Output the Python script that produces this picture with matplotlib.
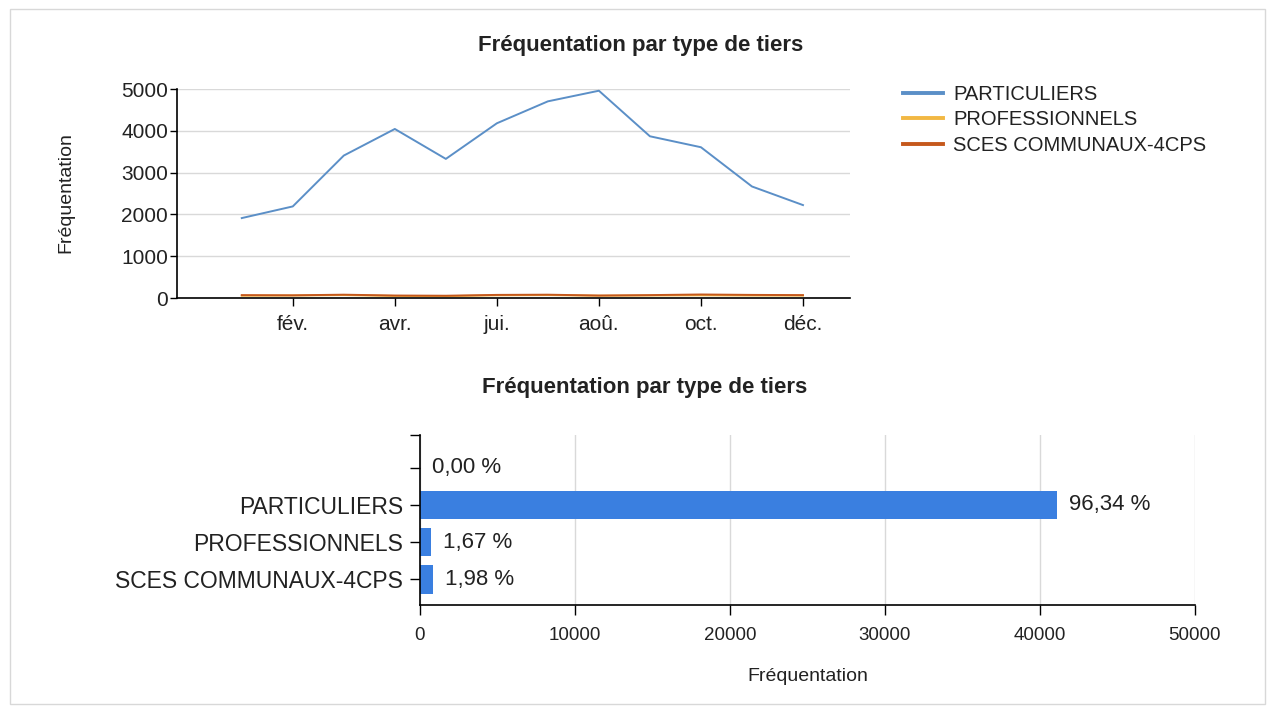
import matplotlib.pyplot as plt
from matplotlib.patches import Rectangle

plt.rcParams['font.family'] = ['Liberation Sans', 'DejaVu Sans']

# monthly attendance per customer type
months = list(range(12))
tick_months = [1, 3, 5, 7, 9, 11]
tick_labels = ['fév.', 'avr.', 'jui.', 'aoû.', 'oct.', 'déc.']
particuliers = [1913, 2192, 3409, 4045, 3329, 4181, 4706, 4960, 3870, 3608, 2669, 2224]
professionnels = [55, 60, 70, 50, 45, 65, 70, 55, 60, 65, 60, 58]
sces = [70, 65, 80, 60, 55, 75, 80, 60, 70, 85, 75, 70]
series_names = ['PARTICULIERS', 'PROFESSIONNELS', 'SCES COMMUNAUX-4CPS']
series_colors = ['#5b8fc7', '#f2b843', '#c5581c']

# bar chart (top to bottom)
bar_cats = ['', 'PARTICULIERS', 'PROFESSIONNELS', 'SCES COMMUNAUX-4CPS']
bar_vals = [0, sum(particuliers), sum(professionnels), sum(sces)]
bar_pct = ['0,00 %', '96,34 %', '1,67 %', '1,98 %']

title = 'Fréquentation par type de tiers'

fig = plt.figure(figsize=(12.75, 7.13), dpi=100)
fig.patches.append(Rectangle((0.008, 0.012), 0.984, 0.976, transform=fig.transFigure,
                             fill=False, edgecolor='#d8d8d8', linewidth=1))

# line chart
ax1 = fig.add_axes([0.1388, 0.582, 0.5278, 0.2931])
for vals, name, col in zip([particuliers, professionnels, sces], series_names, series_colors):
    ax1.plot(months, vals, color=col, linewidth=1.4, label=name)
ax1.set_xlim(-1.27, 11.92)
ax1.set_ylim(0, 5000)
ax1.set_yticks([0, 1000, 2000, 3000, 4000, 5000])
ax1.set_xticks(tick_months)
ax1.set_xticklabels(tick_labels)
ax1.tick_params(labelsize=15, width=1, color='black', labelcolor='#222222')
ax1.tick_params(axis='x', length=6, pad=6)
ax1.tick_params(axis='y', length=5, pad=1.5)
ax1.yaxis.grid(True, color='#d9d9d9', linewidth=1)
ax1.set_axisbelow(True)
for s in ['top', 'right']:
    ax1.spines[s].set_visible(False)
for s in ['left', 'bottom']:
    ax1.spines[s].set_linewidth(1.2)
ax1.set_ylabel('Fréquentation', fontsize=14, color='#222222')
ax1.yaxis.set_label_coords(-0.152, 0.507)
fig.text(641 / 1275, 1 - 46 / 713, title, fontsize=16, fontweight='bold',
         ha='center', va='center', color='#222222')
leg = fig.legend(loc='upper left', bbox_to_anchor=(0.708, 0.881), frameon=False, fontsize=14.5,
                 handlelength=2.0, handletextpad=0.5, labelspacing=0.32, borderaxespad=0,
                 borderpad=0)
for line in leg.get_lines():
    line.set_linewidth(2.8)
for t in leg.get_texts():
    t.set_color('#222222')

# bar chart
ax2 = fig.add_axes([0.3294, 0.1515, 0.6078, 0.2384])
ypos = list(range(len(bar_cats)))[::-1]
ax2.barh(ypos, bar_vals, height=0.78, color='#3a7fe0')
for y, v, lab in zip(ypos, bar_vals, bar_pct):
    ax2.annotate(lab, (v, y), xytext=(8.5, 0), textcoords='offset points',
                 va='center', ha='left', fontsize=16, color='#222222')
ax2.set_yticks(ypos)
ax2.set_yticklabels(bar_cats)
ax2.set_yticks([3.89], minor=True)
ax2.set_ylim(-0.7, 3.89)
ax2.set_xlim(0, 50000)
ax2.set_xticks([0, 10000, 20000, 30000, 40000, 50000])
ax2.tick_params(axis='y', which='both', labelsize=16.5, length=7, width=1, color='black',
                labelcolor='#222222', pad=5)
ax2.tick_params(axis='x', labelsize=13.5, length=7, width=1, color='black',
                labelcolor='#222222', pad=9)
ax2.xaxis.grid(True, color='#d9d9d9', linewidth=1)
ax2.set_axisbelow(True)
for s in ['top', 'right']:
    ax2.spines[s].set_visible(False)
for s in ['left', 'bottom']:
    ax2.spines[s].set_linewidth(1.2)
ax2.set_xlabel('Fréquentation', fontsize=14, labelpad=17, color='#222222')
fig.text(645 / 1275, 1 - 388 / 713, title, fontsize=16, fontweight='bold',
         ha='center', va='center', color='#222222')

fig.savefig('out.png', dpi=100)
